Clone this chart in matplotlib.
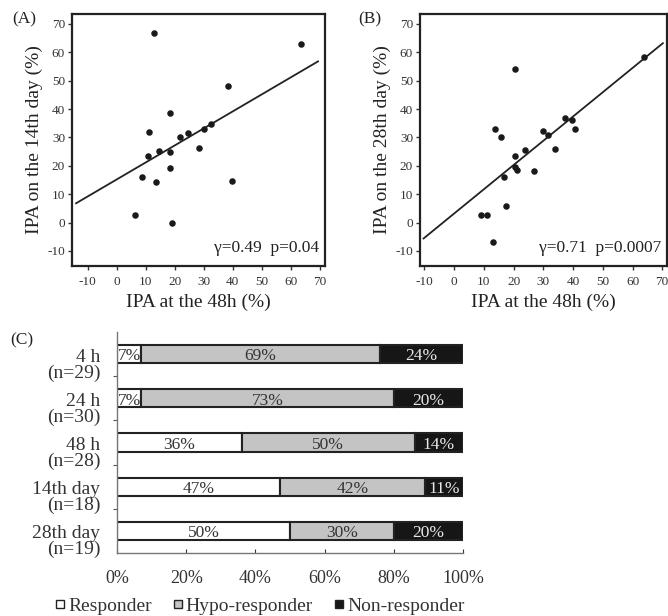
import matplotlib
matplotlib.use("Agg")
import matplotlib.pyplot as plt
from matplotlib.lines import Line2D
import matplotlib.transforms as mtransforms
import numpy as np

plt.rcParams['font.family'] = ['Liberation Serif', 'DejaVu Serif']
plt.rcParams['axes.unicode_minus'] = False

# ---------------- data ----------------
# Panel A: IPA at 48h vs IPA on 14th day
a_x = [12.8, 63.6, 38.2, 18.4, 11.1, 21.8, 24.7, 30.1, 32.4, 14.6,
       18.4, 10.9, 28.5, 18.4, 8.6, 13.5, 39.6, 6.3, 18.9]
a_y = [66.7, 63.0, 48.3, 38.5, 31.8, 30.1, 31.5, 32.9, 34.7, 25.4,
       25.0, 23.3, 26.2, 19.2, 16.0, 14.4, 14.5, 2.8, 0.0]
fitA_x = [-14.0, 69.4]
fitA_y = [6.8, 56.8]
statA = "γ=0.49  p=0.04"

# Panel B: IPA at 48h vs IPA on 28th day
b_x = [20.4, 63.8, 13.7, 15.6, 37.3, 39.6, 40.7, 30.0, 31.7, 23.8,
       33.9, 20.4, 20.4, 21.3, 26.8, 16.7, 17.3, 8.9, 11.0, 12.9]
b_y = [54.1, 58.5, 33.0, 30.1, 36.9, 36.3, 33.0, 32.2, 30.7, 25.5,
       26.0, 23.4, 19.5, 18.5, 18.1, 16.0, 5.8, 2.6, 2.6, -7.0]
fitB_x = [-10.3, 70.2]
fitB_y = [-5.6, 63.2]
statB = "γ=0.71  p=0.0007"

scatter_ticks = [-10, 0, 10, 20, 30, 40, 50, 60, 70]

# Panel C: stacked percentage bars
categories = ["4 h", "24 h", "48 h", "14th day", "28th day"]
counts = ["(n=29)", "(n=30)", "(n=28)", "(n=18)", "(n=19)"]
responder = [7, 7, 36, 47, 50]
hypo = [69, 73, 50, 42, 30]
nonresp = [24, 20, 14, 11, 20]
series_names = ["Responder", "Hypo-responder", "Non-responder"]
pct_ticks = [0, 20, 40, 60, 80, 100]

# ---------------- figure ----------------
W, H = 668, 616
fig = plt.figure(figsize=(W / 100, H / 100), dpi=100)

def px_axes(l, t, r, b):
    return fig.add_axes([l / W, 1 - b / H, (r - l) / W, (b - t) / H])

axA = px_axes(72, 14, 325, 266)
axB = px_axes(420, 14, 667, 266)
axC = px_axes(117, 332, 463, 553)

def style_scatter(ax, xs, ys, fx, fy, xlim, ylabel, stat):
    ax.scatter(xs, ys, s=22, color='#1a1a1a', zorder=3, linewidths=0)
    ax.plot(fx, fy, color='#222222', lw=1.3, zorder=2)
    ax.set_xlim(*xlim)
    ax.set_ylim(-15.3, 73.5)
    ax.set_xticks(scatter_ticks)
    ax.set_yticks(scatter_ticks)
    ax.tick_params(direction='out', length=3, width=1, labelsize=9.5,
                   colors='#333333', pad=2)
    ax.tick_params(axis='x', pad=4)
    for sp in ax.spines.values():
        sp.set_linewidth(1.6)
        sp.set_color('#222222')
    ax.set_xlabel("IPA at the 48h (%)", fontsize=14, color='#222222', labelpad=4)
    ax.set_ylabel(ylabel, fontsize=14, color='#222222', labelpad=3)
    ax.text(0.975, 0.07, stat, transform=ax.transAxes, ha='right', va='center',
            fontsize=12.5, color='#222222')

style_scatter(axA, a_x, a_y, fitA_x, fitA_y, (-15.4, 71.8),
              "IPA on the 14th day (%)", statA)
style_scatter(axB, b_x, b_y, fitB_x, fitB_y, (-11.5, 71.6),
              "IPA on the 28th day (%)", statB)

fig.text(12 / W, 1 - 19 / H, "(A)", fontsize=12.5, va='center', ha='left', color='#222222')
fig.text(358 / W, 1 - 19 / H, "(B)", fontsize=12.5, va='center', ha='left', color='#222222')
fig.text(10 / W, 1 - 340 / H, "(C)", fontsize=12.5, va='center', ha='left', color='#222222')

# ---------------- Panel C ----------------
ypos = np.arange(len(categories))
colors = ['white', '#c4c4c4', '#161616']
data_series = [responder, hypo, nonresp]
left = np.zeros(len(categories))
for vals, col in zip(data_series, colors):
    vals = np.array(vals, dtype=float)
    axC.barh(ypos, vals, left=left, height=0.41, color=col,
             edgecolor='#222222', linewidth=1.5, zorder=2)
    for yi, (l, v) in enumerate(zip(left, vals)):
        tc = '#e8e8e8' if col == '#161616' else '#333333'
        axC.text(l + v / 2, yi + 0.05, f"{int(v)}%", ha='center', va='center',
                 fontsize=12.5, color=tc, zorder=3)
    left = left + vals

axC.set_xlim(0, 100)
axC.set_ylim(len(categories) - 0.5, -0.5)
axC.set_xticks(pct_ticks)
axC.set_xticklabels([f"{t}%" for t in pct_ticks])
axC.set_yticks(ypos[:-1] + 0.5)
axC.set_yticklabels([])
axC.tick_params(axis='x', direction='in', length=3, labelsize=13,
                colors='#333333', pad=12)
axC.tick_params(axis='y', direction='out', length=3, colors='#555555')
for s in ['top', 'right']:
    axC.spines[s].set_visible(False)
for s in ['left', 'bottom']:
    axC.spines[s].set_color('#777777')
    axC.spines[s].set_linewidth(1.0)

trans = mtransforms.blended_transform_factory(axC.transAxes, axC.transData)
for yi, (c, n) in enumerate(zip(categories, counts)):
    axC.annotate(c + "\n" + n, xy=(0, yi), xycoords=trans,
                 xytext=(-12, 4), textcoords='offset points',
                 ha='right', va='top', fontsize=14, color='#333333',
                 linespacing=0.9, multialignment='right')

handles = [Line2D([], [], marker='s', ls='none', markersize=6,
                  markerfacecolor=c, markeredgecolor='#222222', markeredgewidth=1)
           for c in colors]
fig.legend(handles, series_names, loc='center', bbox_to_anchor=(259 / W, 1 - 606 / H),
           ncol=3, frameon=False, fontsize=14, handletextpad=0.05,
           columnspacing=1.0, handlelength=0.7, borderpad=0,
           labelcolor='#333333')

fig.savefig("out.png", dpi=100)
